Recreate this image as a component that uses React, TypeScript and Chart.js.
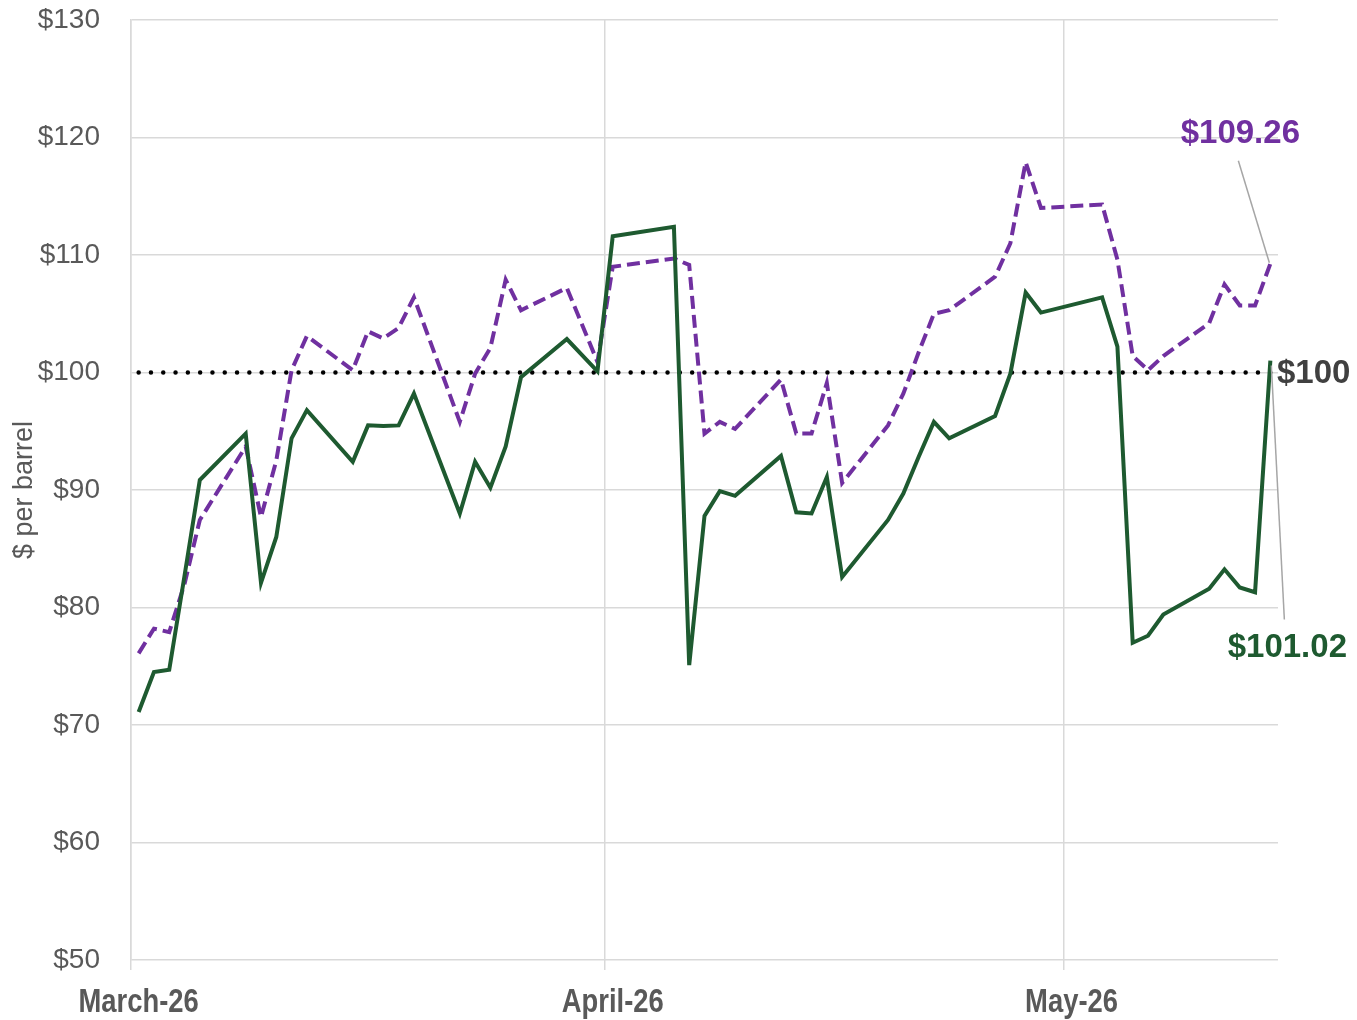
import React, { useEffect, useRef } from "react";
import { Chart, registerables } from "chart.js";

Chart.register(...registerables);

// Day index counted from March 1 (0 = first day of March)
const tradingDays = [
  0, 1, 2, 3, 4, 7, 8, 9, 10, 11, 14, 15, 16, 17, 18, 21, 22, 23, 24, 25, 28, 30, 31, 35, 36, 37, 38, 39,
  42, 43, 44, 45, 46, 49, 50, 51, 52, 53, 56, 57, 58, 59, 63, 64, 65, 66, 67, 70, 71, 72, 73, 74,
];

// Purple dashed series ($ per barrel)
const purplePrices = [
  76.1, 78.2, 77.9, 82.0, 87.45, 93.7, 87.7, 92.5, 100.2, 103.1, 100.2, 103.5, 102.9, 103.8, 106.4, 95.8, 99.9,
  102.1, 107.9, 105.3, 107.2, 100.9, 109.0, 109.7, 109.15, 94.8, 95.8, 95.2, 99.4, 94.8, 94.8, 99.1, 90.6, 95.5,
  98.2, 101.7, 105.0, 105.3, 108.15, 111.0, 117.9, 114.0, 114.3, 109.6, 101.4, 100.2, 101.4, 104.2, 107.5, 105.7,
  105.7, 109.26,
];

// Green solid series ($ per barrel)
const greenPrices = [
  71.1, 74.5, 74.7, 82.7, 90.85, 94.8, 82.1, 86.0, 94.4, 96.8, 92.4, 95.5, 95.45, 95.5, 98.2, 88.0, 92.4, 90.2,
  93.7, 99.6, 102.85, 100.1, 111.6, 112.4, 75.1, 87.8, 89.9, 89.5, 92.9, 88.1, 88.0, 91.1, 82.6, 87.45, 89.7,
  92.8, 95.8, 94.4, 96.3, 99.9, 106.8, 105.1, 106.4, 102.2, 77.0, 77.6, 79.4, 81.6, 83.25, 81.7, 81.3, 101.02,
];

const referenceLevel = 100;
const monthLabels = ["March-26", "April-26", "May-26"];
const monthBoundaries = [-0.5, 30.5, 60.5];
const axisMinDay = -0.5;
const axisMaxDay = 74.5;
const yMin = 50;
const yMax = 130;
const yStep = 10;

const PURPLE = "#7030a0";
const GREEN = "#1e5a30";
const GRID = "#d9d9d9";
const TEXT_GREY = "#595959";

export default function App() {
  const canvasRef = useRef<HTMLCanvasElement | null>(null);

  useEffect(() => {
    const canvas = canvasRef.current;
    if (!canvas) return;

    const annotationPlugin = {
      id: "endLabels",
      afterDatasetsDraw(chart: any) {
        const { ctx, chartArea } = chart;
        const xs = chart.scales.x;
        const ys = chart.scales.y;
        const last = tradingDays.length - 1;
        const px = xs.getPixelForValue(tradingDays[last]);
        const pyP = ys.getPixelForValue(purplePrices[last]);
        const pyG = ys.getPixelForValue(greenPrices[last]);
        const pyR = ys.getPixelForValue(referenceLevel);

        ctx.save();
        // leader lines
        ctx.strokeStyle = "#a6a6a6";
        ctx.lineWidth = 1.5;
        ctx.beginPath();
        ctx.moveTo(px - 32, pyP - 103);
        ctx.lineTo(px - 1, pyP - 1);
        ctx.stroke();
        ctx.beginPath();
        ctx.moveTo(px + 1, pyG + 5);
        ctx.lineTo(px + 14, pyG + 259);
        ctx.stroke();

        ctx.font = "bold 33px 'Liberation Sans', Arial, sans-serif";
        ctx.textBaseline = "middle";
        ctx.textAlign = "center";
        ctx.fillStyle = PURPLE;
        ctx.fillText("$" + purplePrices[last].toFixed(2), px - 30, pyP - 130);
        ctx.fillStyle = GREEN;
        ctx.fillText("$" + greenPrices[last].toFixed(2), px + 17, pyG + 287);
        ctx.fillStyle = "#404040";
        ctx.textAlign = "left";
        ctx.fillText("$" + referenceLevel, chartArea.right - 1, pyR + 1);
        ctx.restore();

        // month labels (narrow bold)
        ctx.save();
        ctx.font = "bold 33px 'Liberation Sans', Arial, sans-serif";
        ctx.fillStyle = TEXT_GREY;
        ctx.textAlign = "center";
        ctx.textBaseline = "alphabetic";
        monthBoundaries.forEach((b, i) => {
          const cx = xs.getPixelForValue(b + 0.5);
          ctx.save();
          ctx.translate(cx, chartArea.bottom + 52);
          ctx.scale(0.83, 1);
          ctx.fillText(monthLabels[i], 0, 0);
          ctx.restore();
        });
        ctx.restore();

        // y axis title
        ctx.save();
        ctx.translate(25, (chartArea.top + chartArea.bottom) / 2);
        ctx.rotate(-Math.PI / 2);
        ctx.font = "27px 'Liberation Sans', Arial, sans-serif";
        ctx.fillStyle = TEXT_GREY;
        ctx.textAlign = "center";
        ctx.textBaseline = "middle";
        ctx.fillText("$ per barrel", 0, 0);
        ctx.restore();
      },
    };

    const chart = new Chart(canvas, {
      type: "line",
      data: {
        datasets: [
          {
            label: "Green",
            data: tradingDays.map((d, i) => ({ x: d, y: greenPrices[i] })),
            borderColor: GREEN,
            borderWidth: 4,
            pointRadius: 0,
            tension: 0,
            order: 1,
          },
          {
            label: "Purple",
            data: tradingDays.map((d, i) => ({ x: d, y: purplePrices[i] })),
            borderColor: PURPLE,
            borderWidth: 4,
            borderDash: [13, 6],
            pointRadius: 0,
            tension: 0,
            order: 2,
          },
          {
            label: "$100",
            data: [
              { x: tradingDays[0], y: referenceLevel },
              { x: tradingDays[tradingDays.length - 1], y: referenceLevel },
            ],
            borderColor: "#000000",
            borderWidth: 4.5,
            borderDash: [0, 12.3],
            borderCapStyle: "round",
            pointRadius: 0,
            order: 3,
          },
        ],
      },
      options: {
        animation: false,
        responsive: true,
        maintainAspectRatio: false,
        layout: { padding: { top: 20, right: 79, left: 0, bottom: 0 } },
        plugins: {
          legend: { display: false },
          tooltip: { enabled: false },
        },
        scales: {
          x: {
            type: "linear",
            min: axisMinDay,
            max: axisMaxDay,
            afterBuildTicks: (scale: any) => {
              scale.ticks = monthBoundaries.map((v) => ({ value: v }));
            },
            afterFit: (scale: any) => {
              scale.height = 60;
              scale.paddingLeft = 0;
              scale.paddingRight = 0;
            },
            ticks: { display: false },
            grid: { color: GRID, lineWidth: 1.5, drawTicks: true, tickLength: 10 },
            border: { display: false },
          },
          y: {
            min: yMin,
            max: yMax,
            afterFit: (scale: any) => {
              scale.width = 131;
              scale.paddingTop = 0;
              scale.paddingBottom = 0;
            },
            ticks: {
              stepSize: yStep,
              padding: 31,
              color: TEXT_GREY,
              font: { family: "'Liberation Sans', Arial", size: 28 },
              callback: (v: any) => "$" + v,
            },
            grid: { color: GRID, lineWidth: 1.5, drawTicks: false },
            border: { display: true, color: GRID, width: 1.5 },
          },
        },
      },
      plugins: [annotationPlugin],
    } as any);

    return () => chart.destroy();
  }, []);

  return (
    <div style={{ position: "absolute", left: 0, top: 0, width: 1357, height: 1020, background: "#fff" }}>
      <canvas ref={canvasRef} />
    </div>
  );
}
